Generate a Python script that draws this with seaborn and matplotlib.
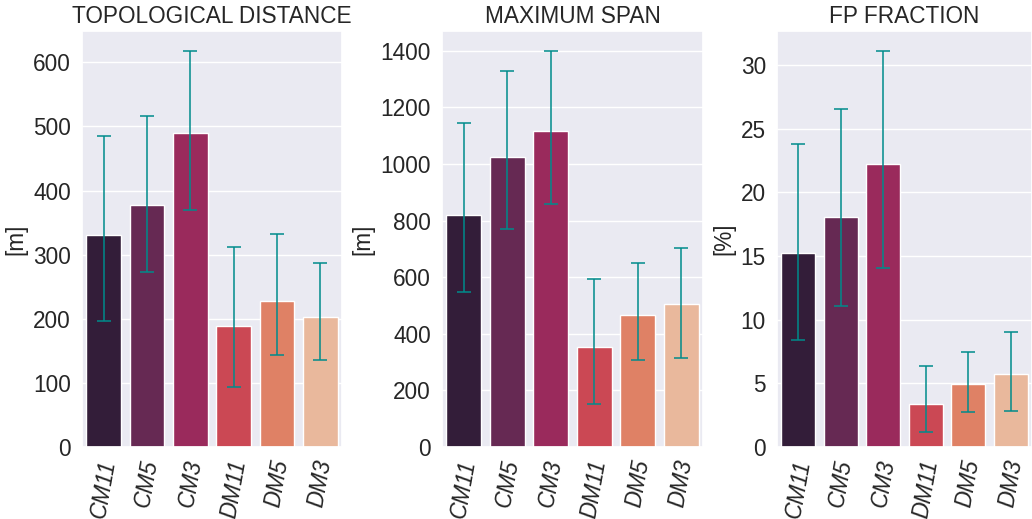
import numpy as np
import pandas as pd
import matplotlib
matplotlib.use("Agg")
import matplotlib.pyplot as plt
import seaborn as sns

categories = ["CM11", "CM5", "CM3", "DM11", "DM5", "DM3"]

topo_mean = [330, 378, 490, 189, 228, 203]
topo_lo = [197, 273, 369, 93, 144, 135]
topo_hi = [485, 516, 618, 312, 333, 287]

span_mean = [819, 1026, 1115, 354, 468, 504]
span_lo = [548, 769, 860, 152, 308, 315]
span_hi = [1146, 1328, 1400, 593, 650, 702]

fp_mean = [15.24, 18.04, 22.2, 3.37, 4.96, 5.72]
fp_lo = [8.4, 11.07, 14.02, 1.17, 2.77, 2.82]
fp_hi = [23.76, 26.52, 31.1, 6.37, 7.49, 9.06]

titles = ["TOPOLOGICAL DISTANCE", "MAXIMUM SPAN", "FP FRACTION"]
ylabels = ["[m]", "[m]", "[%]"]

sns.set_theme(style="darkgrid")
plt.rcParams["font.family"] = ["Liberation Sans", "DejaVu Sans"]

W, H = 1032, 519
fig = plt.figure(figsize=(W / 100, H / 100), dpi=100)

panels = [
    (topo_mean, topo_lo, topo_hi, 82, 260),
    (span_mean, span_lo, span_hi, 442, 261),
    (fp_mean, fp_lo, fp_hi, 777, 255),
]
palette = sns.color_palette("rocket", len(categories))
fs = 16.3

for i, (mean, lo, hi, left, width) in enumerate(panels):
    ax = fig.add_axes([left / W, (H - 447) / H, width / W, 416 / H])
    df = pd.DataFrame({"cat": categories, "val": mean})
    sns.barplot(data=df, x="cat", y="val", hue="cat", palette=palette,
                legend=False, errorbar=None, ax=ax)
    m = np.array(mean)
    yerr = np.vstack([m - np.array(lo), np.array(hi) - m])
    ax.errorbar(np.arange(len(categories)), m, yerr=yerr, fmt="none",
                ecolor="darkcyan", elinewidth=1.1, capsize=4.8,
                capthick=1.1)
    ax.set_xlim(-0.5, len(categories) - 0.5)
    ax.set_title(titles[i], fontsize=fs, pad=6)
    ax.set_xlabel("")
    ax.set_ylabel(ylabels[i], fontsize=fs, labelpad=4)
    ax.tick_params(axis="y", labelsize=fs, pad=2)
    ax.tick_params(axis="x", labelsize=fs, pad=2)
    for lab in ax.get_xticklabels():
        lab.set_rotation(80)
        lab.set_fontstyle("italic")
    ax.set_ylim(bottom=0)

fig.savefig("out.png", dpi=100)
